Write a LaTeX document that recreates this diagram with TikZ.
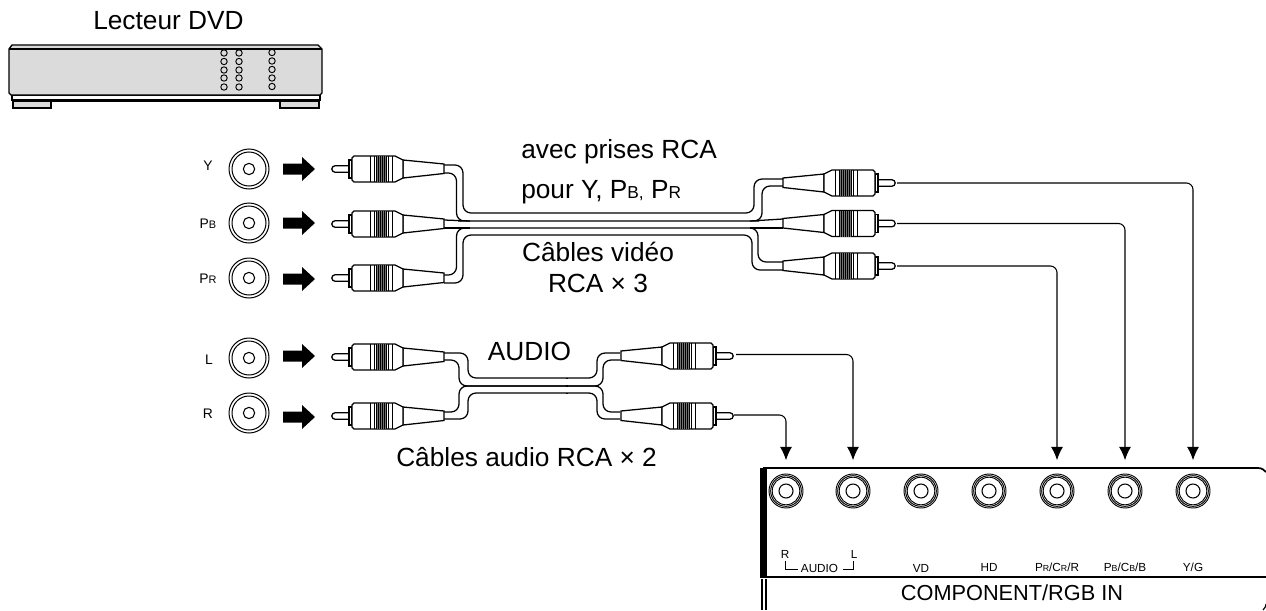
\documentclass[tikz,border=0pt]{standalone}
\usepackage{fontspec}
\setmainfont{Liberation Sans}
\usetikzlibrary{arrows.meta}
\newcommand{\fbig}{\fontsize{19.7}{22}\selectfont}
\newcommand{\fmed}{\fontsize{16.3}{19}\selectfont}
\newcommand{\fsml}{\fontsize{8.8}{10}\selectfont}
\newcommand{\ftny}{\fontsize{6.6}{8}\selectfont}
\newcommand{\flab}{\fontsize{10.4}{11}\selectfont}
\newcommand{\flabs}{\fontsize{8.2}{9}\selectfont}
\tikzset{
  ln/.style={line width=0.95pt,black},
  cable/.style={line width=0.95pt,black,rounded corners=6pt},
  conn/.style={line width=0.8pt,black,rounded corners=5pt,-{Latex[length=10pt,width=9pt]}},
  txt/.style={inner sep=0pt,anchor=base west,text=black},
  ctr/.style={inner sep=0pt,anchor=base,text=black},
  srcjack/.style={circle,draw,line width=0.75pt,minimum size=30pt,inner sep=0pt},
  panjack/.style={circle,draw,line width=0.7pt,minimum size=25.5pt,inner sep=0pt},
  innerring/.style={circle,draw,line width=0.8pt,minimum size=8.5pt,inner sep=0pt},
  blockarrow/.style={fill=black,draw=none},
  dvdgray/.style={fill=black!14,draw=black,line width=1pt},
}
% #1 x, #2 y, #3 x direction (1: tip at left, -1: tip at right)
\newcommand{\rca}[3]{%
\begin{scope}[shift={(#1,#2)},xscale=#3]
  \draw[ln,fill=white] (17,-3.2) -- (3,-3.2) arc[start angle=90,end angle=270,radius=3.2*0.75pt] -- (17,3.2);
  \draw[ln,fill=white] (17,-9) -- (20,-9) -- (20,9) -- (17,9) -- cycle;
  \draw[ln,fill=white] (71,-9) -- (112,-5) -- (112,4.5) -- (71,9) -- cycle;
  \draw[ln,fill=white] (20,-11) -- (22,-13) -- (63,-13) -- (71,-9) -- (71,9) -- (63,13) -- (22,13) -- (20,11) -- cycle;
  \fill[black!55] (44,-13) rectangle (55,13);
  \foreach \gx in {38,42,44,46,48,50,52,54,56,60}{\draw[line width=0.6pt] (\gx,-13) -- (\gx,13);}
\end{scope}}
\newcommand{\blockarr}[1]{%
  \fill[blockarrow] (283,#1-5.5) -- (302,#1-5.5) -- (302,#1-12) -- (315,#1) -- (302,#1+12) -- (302,#1+5.5) -- (283,#1+5.5) -- cycle;}
\begin{document}
\begin{tikzpicture}[x=0.75pt,y=-0.75pt]
\useasboundingbox[fill=white] (0,0) rectangle (1266,610);
% --- DVD player
\node[txt] (dvdlabel) at (93,30) {\fbig Lecteur DVD};
\draw[dvdgray,fill=white] (12,95) rectangle (320,100);
\draw[dvdgray] (13,100) rectangle (51,108);
\draw[dvdgray] (280,100) rectangle (319,108);
\draw[line width=1pt] (12,101) -- (320,101);
\draw[dvdgray] (9,49) -- (12,45) -- (318,45) -- (322,49) -- (322,93) -- (320,95) -- (11,95) -- (9,93) -- cycle;
\draw[line width=0.9pt] (9,49) -- (322,49);
\foreach \dx/\dy in {224/53,224/61.5,224/70,224/78,224/87,239/53,239/61.5,239/70,239/78,239/87,272/52.5,272/61,272/69.5,272/78,272/86.5}
  \draw[line width=0.7pt,fill=black!14] (\dx,\dy) circle[radius=2.4pt];
% --- Source jacks
\foreach \nm/\jy in {jy/169,jb/223,jr/278,jl/358,ja/413}{
  \node[srcjack] (\nm) at (249,\jy) {};
  \node[srcjack,minimum size=25.5pt] (\nm m) at (249,\jy) {};
  \node[innerring] (\nm c) at (249,\jy) {};
}
\node[ctr] (ly) at (208,170) {\flab Y};
\node[ctr] (lb) at (208,228) {\flab P\flabs B};
\node[ctr] (lr) at (208,283) {\flab P\flabs R};
\node[ctr] (ll) at (209,364) {\flab L};
\node[ctr] (la) at (208,418) {\flab R};
\blockarr{169}\blockarr{223}\blockarr{279}\blockarr{356}\blockarr{417}
% --- Video cables
\draw[cable] (444,165) -- (463,165) -- (463,213) -- (754,213) -- (754,179) -- (783,179);
\draw[cable] (444,173) -- (456.5,173) -- (456.5,221) -- (466,221) -- (751,221) -- (762,221) -- (762,186) -- (783,186);
\draw[cable] (444,283) -- (463,283) -- (463,235) -- (752,235) -- (752,270) -- (783,270);
\draw[cable] (444,275) -- (456.5,275) -- (456.5,228) -- (758,228) -- (758,262) -- (783,262);
\draw[ln] (444,220) -- (470,221);
\draw[ln] (444,228) -- (470,228);
\draw[ln] (750,221) -- (783,219);
\draw[ln] (750,228) -- (783,228);
% --- Audio cables
\draw[cable] (444,353) -- (468,353) -- (468,378) -- (597,378) -- (597,353) -- (620,353);
\draw[cable] (444,360) -- (459,360) -- (459,386) -- (603,386) -- (603,360) -- (620,360);
\draw[cable] (444,412) -- (459,412) -- (459,386) -- (603,386) -- (603,412) -- (620,412);
\draw[cable] (444,419) -- (468,419) -- (468,393) -- (597,393) -- (597,419) -- (620,419);
\draw[line width=1.4pt] (567,377.5) -- (567,379) (567,385) -- (567,387) (567,392.5) -- (567,394);
% --- Plugs
\rca{332}{169}{1}\rca{332}{224}{1}\rca{332}{278}{1}\rca{332}{357}{1}\rca{332}{416}{1}
\rca{895}{183}{-1}\rca{895}{223.5}{-1}\rca{895}{266}{-1}\rca{733}{356}{-1}\rca{733}{416}{-1}
\coordinate (ty) at (897,183);
\coordinate (tb) at (897,223.5);
\coordinate (tr) at (897,266);
\coordinate (tl) at (736,354.5);
\coordinate (ta) at (734,415);
% --- Panel
\draw[line width=1.3pt] (763,468) -- (1258,468) .. controls (1262,468) and (1264,470) .. (1266,472);
\draw[line width=1.3pt] (760,577) -- (1266,577);
\fill[black] (760,468) rectangle (767,577);
\draw[line width=0.9pt] (762,579) -- (762,610) (766,579) -- (766,610);
\draw[line width=0.9pt] (1263,610) .. controls (1265,608) and (1266,606) .. (1266,604);
\foreach \nm/\px in {p1/786,p2/853,p3/921,p4/989,p5/1057,p6/1125,p7/1193}{
  \node[panjack] (\nm) at (\px,491) {};
  \node[panjack,minimum size=23pt] (\nm m) at (\px,491) {};
  \node[panjack,minimum size=20.7pt] (\nm n) at (\px,491) {};
  \node[innerring,minimum size=10.5pt] (\nm c) at (\px,491) {};
}
% --- Connectors
\draw[conn,shorten >=10pt] (ty) -| (p7.north);
\draw[conn,shorten >=10pt] (tb) -| (p6.north);
\draw[conn,shorten >=10pt] (tr) -| (p5.north);
\draw[conn,shorten >=10pt] (tl) -| (p2.north);
\draw[conn,shorten >=10pt] (ta) -| (p1.north);
% --- Panel labels
\node[ctr] (rr) at (785,558) {\fsml R};
\node[ctr] (rl) at (854,558) {\fsml L};
\node[ctr] (aud) at (819.5,572) {\fsml AUDIO};
\draw[line width=0.7pt] (785,561) |- (798,569);
\draw[line width=0.7pt] (843,569) -| (853,561);
\node[ctr] (vd) at (921,572) {\fsml VD};
\node[ctr] (hd) at (989,571) {\fsml HD};
\node[ctr] (pr) at (1057,571) {\fsml P\ftny R\fsml /C\ftny R\fsml /R};
\node[ctr] (pb) at (1125,571) {\fsml P\ftny B\fsml /C\ftny B\fsml /B};
\node[ctr] (yg) at (1193,571) {\fsml Y/G};
\node[ctr] (comp) at (1012,600) {\fmed COMPONENT/RGB IN};
% --- Captions
\node[txt] (c1) at (521,158) {\fbig avec prises RCA};
\node[txt] (c2) at (521,198) {\fbig pour Y, P{\fontsize{13}{14}\selectfont B,} P{\fontsize{13}{14}\selectfont R}};
\node[ctr] (c3) at (598,261) {\fbig Câbles vidéo};
\node[ctr] (c4) at (598,292) {\fbig RCA × 3};
\node[ctr] (c5) at (529.5,360) {\fbig AUDIO};
\node[txt] (c6) at (396,466) {\fbig Câbles audio RCA × 2};
\end{tikzpicture}
\end{document}
